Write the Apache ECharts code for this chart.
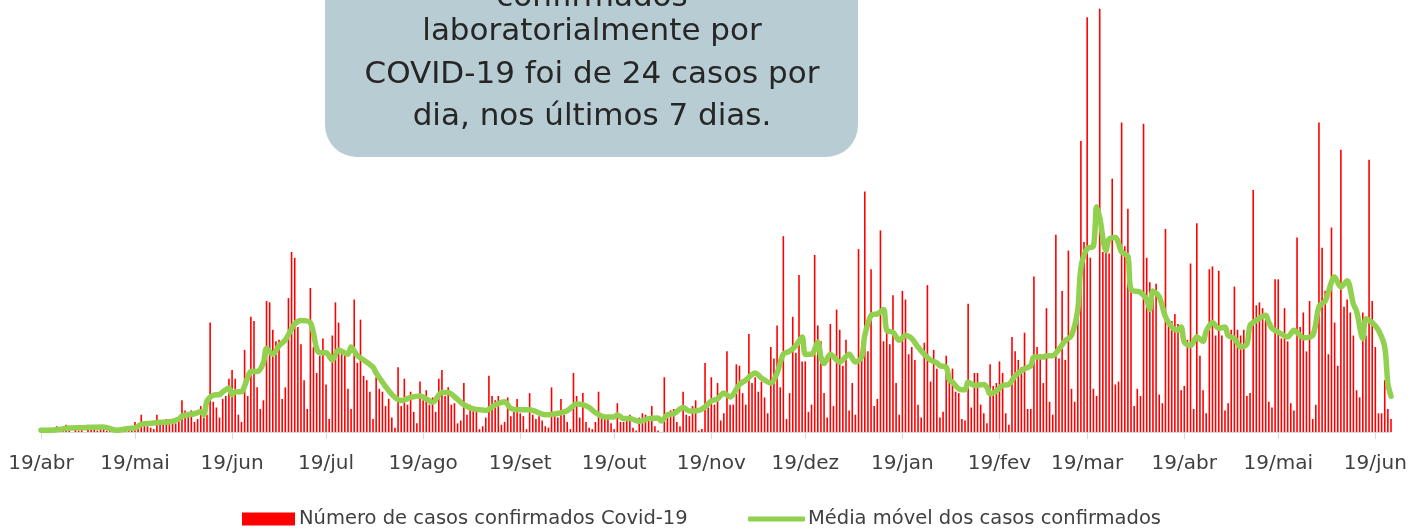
<!DOCTYPE html>
<html>
<head>
<meta charset="utf-8">
<script src="https://cdn.jsdelivr.net/npm/echarts@6/dist/echarts.min.js"></script>
<style>
html,body{margin:0;padding:0;background:#fff;}
#chart{width:1428px;height:529px;}
</style>
</head>
<body>
<div id="chart"></div>
<script>
// Start date of the daily series and month names for tick labels
var startDate = '2020-04-19';
var dayCount = 432;
var monthNames = ['jan','fev','mar','abr','mai','jun','jul','ago','set','out','nov','dez'];

// Daily confirmed cases, day 0 = 19/abr/2020
var cases = [
1,0,2,1,0,4,1,2,5,1,0,2,1,3,0,5,2,4,1,2,3,1,2,0,1,1,2,3,2,4,7,3,12,5,4,3,
2,12,7,5,9,9,7,6,10,22,15,14,15,7,9,18,10,12,76,21,17,10,23,25,37,43,37,12,7,57,25,80,77,31,16,22,
91,90,71,63,64,23,31,93,125,121,73,61,36,16,100,59,41,53,65,33,9,67,90,76,54,54,30,16,92,48,78,39,36,28,9,38,
30,28,18,23,10,3,45,18,37,19,28,14,6,35,22,29,19,24,14,37,43,25,31,19,20,6,8,34,12,19,18,15,2,4,10,39,
25,22,25,5,7,24,11,14,23,13,11,2,27,12,9,11,8,4,3,31,11,10,23,12,7,2,41,25,10,27,7,3,2,7,28,
10,9,10,6,2,20,7,7,10,12,3,1,10,13,12,9,18,4,1,0,38,12,15,16,7,4,28,12,11,18,22,1,2,48,17,38,
19,34,8,13,56,19,19,47,46,27,19,68,34,38,28,35,24,13,59,51,74,31,136,9,27,80,55,109,49,49,14,19,123,74,63,27,
10,75,18,85,71,46,64,15,34,12,127,50,167,56,113,18,23,140,63,69,61,95,34,12,98,92,54,59,50,19,10,62,102,35,57,
44,10,14,53,35,44,28,27,9,8,89,17,41,41,19,13,6,47,32,34,49,41,13,5,66,56,50,45,69,16,16,108,59,54,34,86,
21,12,137,51,98,50,126,30,21,103,202,132,288,121,30,25,294,125,128,124,176,33,35,215,129,155,98,18,30,25,214,121,104,96,103,26,
20,141,75,77,82,75,29,32,64,117,16,145,53,29,13,113,115,67,112,67,15,20,71,101,71,67,71,25,27,168,88,90,86,78,21,
17,106,106,65,86,63,20,15,135,73,83,56,91,9,19,215,128,98,54,142,76,46,196,87,92,83,67,29,24,83,67,189,91,59,13,13,36,16,9
];

var maDays = [0,5,9,14,20,24,28,30,32,35,38,41,44,45,49,51,52,53,55,57,58,60,61,62,64,65,66,67,69,71,72,74,76,78,81,83,86,88,89,91,93,95,98,99,101,103,106,107,111,113,115,118,121,123,125,128,130,132,135,138,141,142,145,148,150,153,156,161,164,168,171,173,175,177,180,183,184,186,188,191,194,197,198,200,202,205,207,210,212,214,216,218,220,223,225,228,230,233,235,237,239,241,243,244,246,248,249,250,252,255,258,260,262,263,265,267,269,270,272,274,276,278,280,282,284,286,287,289,290,291,293,295,296,298,301,302,303,305,307,309,311,314,316,317,320,321,323,325,327,329,331,332,334,336,337,338,340,341,343,345,347,348,351,353,354,355,357,359,361,363,364,365,367,369,371,372,374,376,378,379,381,383,385,386,388,391,392,393,395,398,400,402,403,406,408,410,413,415,417,419,420,422,423,425,427,429,430,431];
var maValues = [1.2,1.6,2.8,3,3.5,1.2,2.5,2.8,5.3,6,6.7,7,9,11,12.7,14,12,21.5,25.5,26,27.8,30.6,26,27.8,28,32,38,42,42,48,58,54,60,64,75,77.5,76,58,55,55,50,57,54,59,53,50,45,41,28.7,24,21.8,24,25,23,20.6,27.5,27.5,24.5,19,16,15.3,15,18.8,21,16.4,15.5,15.5,12,12.5,14.8,19.4,19,17,13.5,10.4,10.4,12,9.3,9.3,7.4,9.3,9.7,7.6,12,12.7,17,14.6,15,17.4,21.5,23,27,24.3,33,36,41,37.5,34,41,54,56,60,66,54,54,62.5,52,47.5,54,48.6,54,48.6,52,67,81,82,85,70.6,69.4,63.7,67,65,59,54,49.8,48,46,45,36,34.7,30,29.4,34.7,32.4,33,31,26.6,28.5,32.4,33,39,44,46,52,52,53,53,57.6,63.4,67,85,114,127.5,129,156.5,149,126,134,135,125,122,99,97,92,85,98,94,80,73,70.6,73,62.5,60,66,63,70,76,72,73,67,65,59,61,74,77.5,81,76,72,69.4,66,70.6,67,65.5,67,87,91,107.6,100.7,105,88.7,84,65,78.7,76,70.6,59,33.6,24.8];

var seriesNames = ['Número de casos confirmados Covid-19', 'Média móvel dos casos confirmados'];
var noteFirstLine = 'confirmados';
var noteText = 'laboratorialmente por\nCOVID-19 foi de 24 casos por\ndia, nos últimos 7 dias.';

// Build category list (dates)
var categories = [];
(function(){
  var p = startDate.split('-');
  var base = Date.UTC(+p[0], +p[1]-1, +p[2]);
  for (var i = 0; i < dayCount; i++) {
    var d = new Date(base + i*86400000);
    var mm = d.getUTCMonth()+1, dd = d.getUTCDate();
    categories.push(d.getUTCFullYear()+'-'+(mm<10?'0':'')+mm+'-'+(dd<10?'0':'')+dd);
  }
})();
function isTickDay(idx, val){ return categories[idx].slice(8) === '19'; }

var maData = maDays.map(function(d, i){ return [categories[d], maValues[i]]; });

var FONT = 'DejaVu Sans';
var chart = echarts.init(document.getElementById('chart'));
chart.setOption({
  animation: false,
  backgroundColor: '#ffffff',
  grid: { left: 41, right: 37, top: 0, bottom: 97 },
  xAxis: {
    type: 'category',
    data: categories,
    boundaryGap: false,
    axisLine: { lineStyle: { color: '#d9d9d9', width: 1 } },
    axisTick: { show: true, interval: isTickDay, length: 7, lineStyle: { color: '#d9d9d9' } },
    axisLabel: {
      interval: isTickDay,
      margin: 22,
      color: '#404040',
      fontFamily: FONT,
      fontSize: 20,
      formatter: function(val){ return '19/' + monthNames[+val.slice(5,7)-1]; }
    },
    splitLine: { show: false }
  },
  yAxis: { type: 'value', min: 0, max: 300, show: false, splitLine: { show: false } },
  legend: [
    { data: [{ name: seriesNames[0], icon: 'rect' }], left: 242, top: 509, padding: 0, itemWidth: 53, itemHeight: 13, itemGap: 0,
      textStyle: { fontFamily: FONT, fontSize: 19.5, color: '#404040', padding: [0,0,0,-1] } },
    { data: [{ name: seriesNames[1], icon: 'roundRect' }], left: 748, top: 509, padding: 0, itemWidth: 57, itemHeight: 5, itemGap: 0,
      textStyle: { fontFamily: FONT, fontSize: 19.5, color: '#404040', padding: [0,0,0,-2] } }
  ],
  series: [
    { name: seriesNames[0], type: 'bar', data: cases, barWidth: 1.6, itemStyle: { color: '#ff0000' }, z: 1 },
    { name: seriesNames[1], type: 'line', data: maData, smooth: 0.3, symbol: 'none',
      lineStyle: { color: '#92d050', width: 5.5, cap: 'round', join: 'round' }, itemStyle: { color: '#92d050' }, z: 2 }
  ],
  graphic: [
    { type: 'rect', shape: { x: 325, y: -60, width: 533, height: 217, r: 32 }, style: { fill: '#b7cdd3' }, z: 10 },
    { type: 'text', x: 592, y: -2, z: 11,
      style: { text: noteFirstLine, textAlign: 'center', textVerticalAlign: 'middle', fontFamily: FONT, fontSize: 31, fill: '#262626' } },
    { type: 'text', x: 592, y: 11, z: 11,
      style: { text: noteText, textAlign: 'center', textVerticalAlign: 'top', fontFamily: FONT, fontSize: 31, lineHeight: 42.5, fill: '#262626' } }
  ]
});
</script>
</body>
</html>
